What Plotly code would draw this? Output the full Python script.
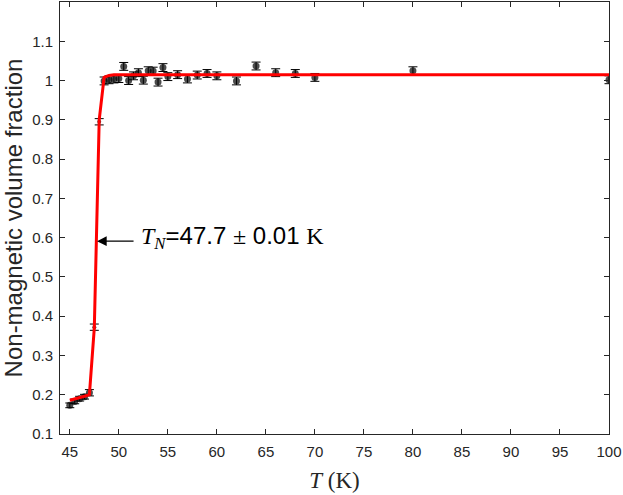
import plotly.graph_objects as go

# Temperature (K)
T = [45, 45.5, 46, 46.5, 47, 47.5, 48, 48.5, 49, 49.5, 50, 50.5, 51, 51.5, 52,
     52.5, 53, 53.5, 54, 54.5, 55, 56, 57, 58, 59, 60, 62, 64, 66, 68, 70, 80, 100]
# Non-magnetic volume fraction
frac = [0.173, 0.183, 0.190, 0.195, 0.205, 0.372, 0.895, 0.999, 1.002, 1.004,
        1.005, 1.036, 1.000, 1.012, 1.020, 1.001, 1.025, 1.024, 0.996, 1.033,
        1.010, 1.015, 1.004, 1.014, 1.018, 1.012, 0.999, 1.037, 1.020, 1.018,
        1.008, 1.025, 1.002]
err = [0.006, 0.006, 0.006, 0.006, 0.008, 0.008, 0.008, 0.010, 0.010, 0.010,
       0.010, 0.010, 0.010, 0.010, 0.010, 0.010, 0.010, 0.010, 0.010, 0.010,
       0.010, 0.010, 0.010, 0.010, 0.010, 0.010, 0.010, 0.010, 0.010, 0.010,
       0.010, 0.010, 0.010]
# Fit curve evaluated at the measured temperatures
fit = [0.186, 0.189, 0.193, 0.196, 0.200, 0.370, 0.900, 1.008, 1.013, 1.015,
       1.015, 1.015, 1.015, 1.015, 1.015, 1.015, 1.015, 1.015, 1.015, 1.015,
       1.015, 1.015, 1.015, 1.015, 1.015, 1.015, 1.015, 1.015, 1.015, 1.015,
       1.015, 1.015, 1.015]

x_ticks = [45, 50, 55, 60, 65, 70, 75, 80, 85, 90, 95, 100]
y_ticks = [0.1, 0.2, 0.3, 0.4, 0.5, 0.6, 0.7, 0.8, 0.9, 1.0, 1.1]
y_ticktext = ["0.1", "0.2", "0.3", "0.4", "0.5", "0.6", "0.7", "0.8", "0.9", "1", "1.1"]

TN = 47.78
TN_level = 0.591

marker_sizes = [7 if (f > 0.95 or f < 0.25) else 4 for f in frac]

AX = "#262626"
SANS = "Liberation Sans, Arial, sans-serif"
SERIF = "Liberation Serif"

fig = go.Figure()
fig.add_trace(go.Scatter(
    x=T, y=frac, mode="markers",
    marker=dict(color="black", size=marker_sizes, symbol="circle",
                line=dict(width=0)),
    error_y=dict(type="data", array=err, visible=True, color="black",
                 thickness=1, width=4.5),
    showlegend=False,
))
fig.add_trace(go.Scatter(
    x=T, y=fit, mode="lines",
    line=dict(color="#ff0000", width=3),
    showlegend=False,
))

# arrow
fig.add_annotation(x=TN, y=TN_level, xref="x", yref="y", text="",
                   showarrow=True, arrowhead=2, arrowsize=1.6, arrowwidth=1.2,
                   arrowcolor="black", ax=38, ay=0)
fig.add_annotation(
    x=TN, y=TN_level, xref="x", yref="y", xshift=42, yshift=4,
    xanchor="left", yanchor="middle", showarrow=False,
    text=(f"<span style='font-family:{SERIF}'><i>T</i><sub><i>N</i></sub></span>"
          f"=47.7 <span style='font-family:{SERIF}'>±</span> 0.01 "
          f"<span style='font-family:{SERIF}'>K</span>"),
    font=dict(family=SANS, size=24, color="black"),
)

axis_common = dict(
    showline=True, linecolor=AX, linewidth=1, mirror="ticks",
    ticks="inside", ticklen=5, tickcolor=AX, tickwidth=1,
    showgrid=False, zeroline=False, automargin=False,
    tickfont=dict(family=SANS, size=15, color=AX),
)

fig.update_layout(
    width=623, height=495,
    margin=dict(l=60, r=14, t=2, b=61),
    plot_bgcolor="white", paper_bgcolor="white",
    xaxis=dict(range=[44, 100], tickvals=x_ticks, ticklabelstandoff=4,
               title=dict(text="<i>T</i> (K)", standoff=12,
                          font=dict(family=SERIF, size=23, color=AX)),
               **axis_common),
    yaxis=dict(range=[0.1, 1.2], tickvals=y_ticks, ticktext=y_ticktext,
               ticklabelstandoff=3,
               title=dict(text="Non-magnetic volume fraction", standoff=11,
                          font=dict(family=SANS, size=24, color=AX)),
               **axis_common),
)

fig.write_html("out.html", config={"displayModeBar": False},
               post_script="document.body.style.margin='0';")
